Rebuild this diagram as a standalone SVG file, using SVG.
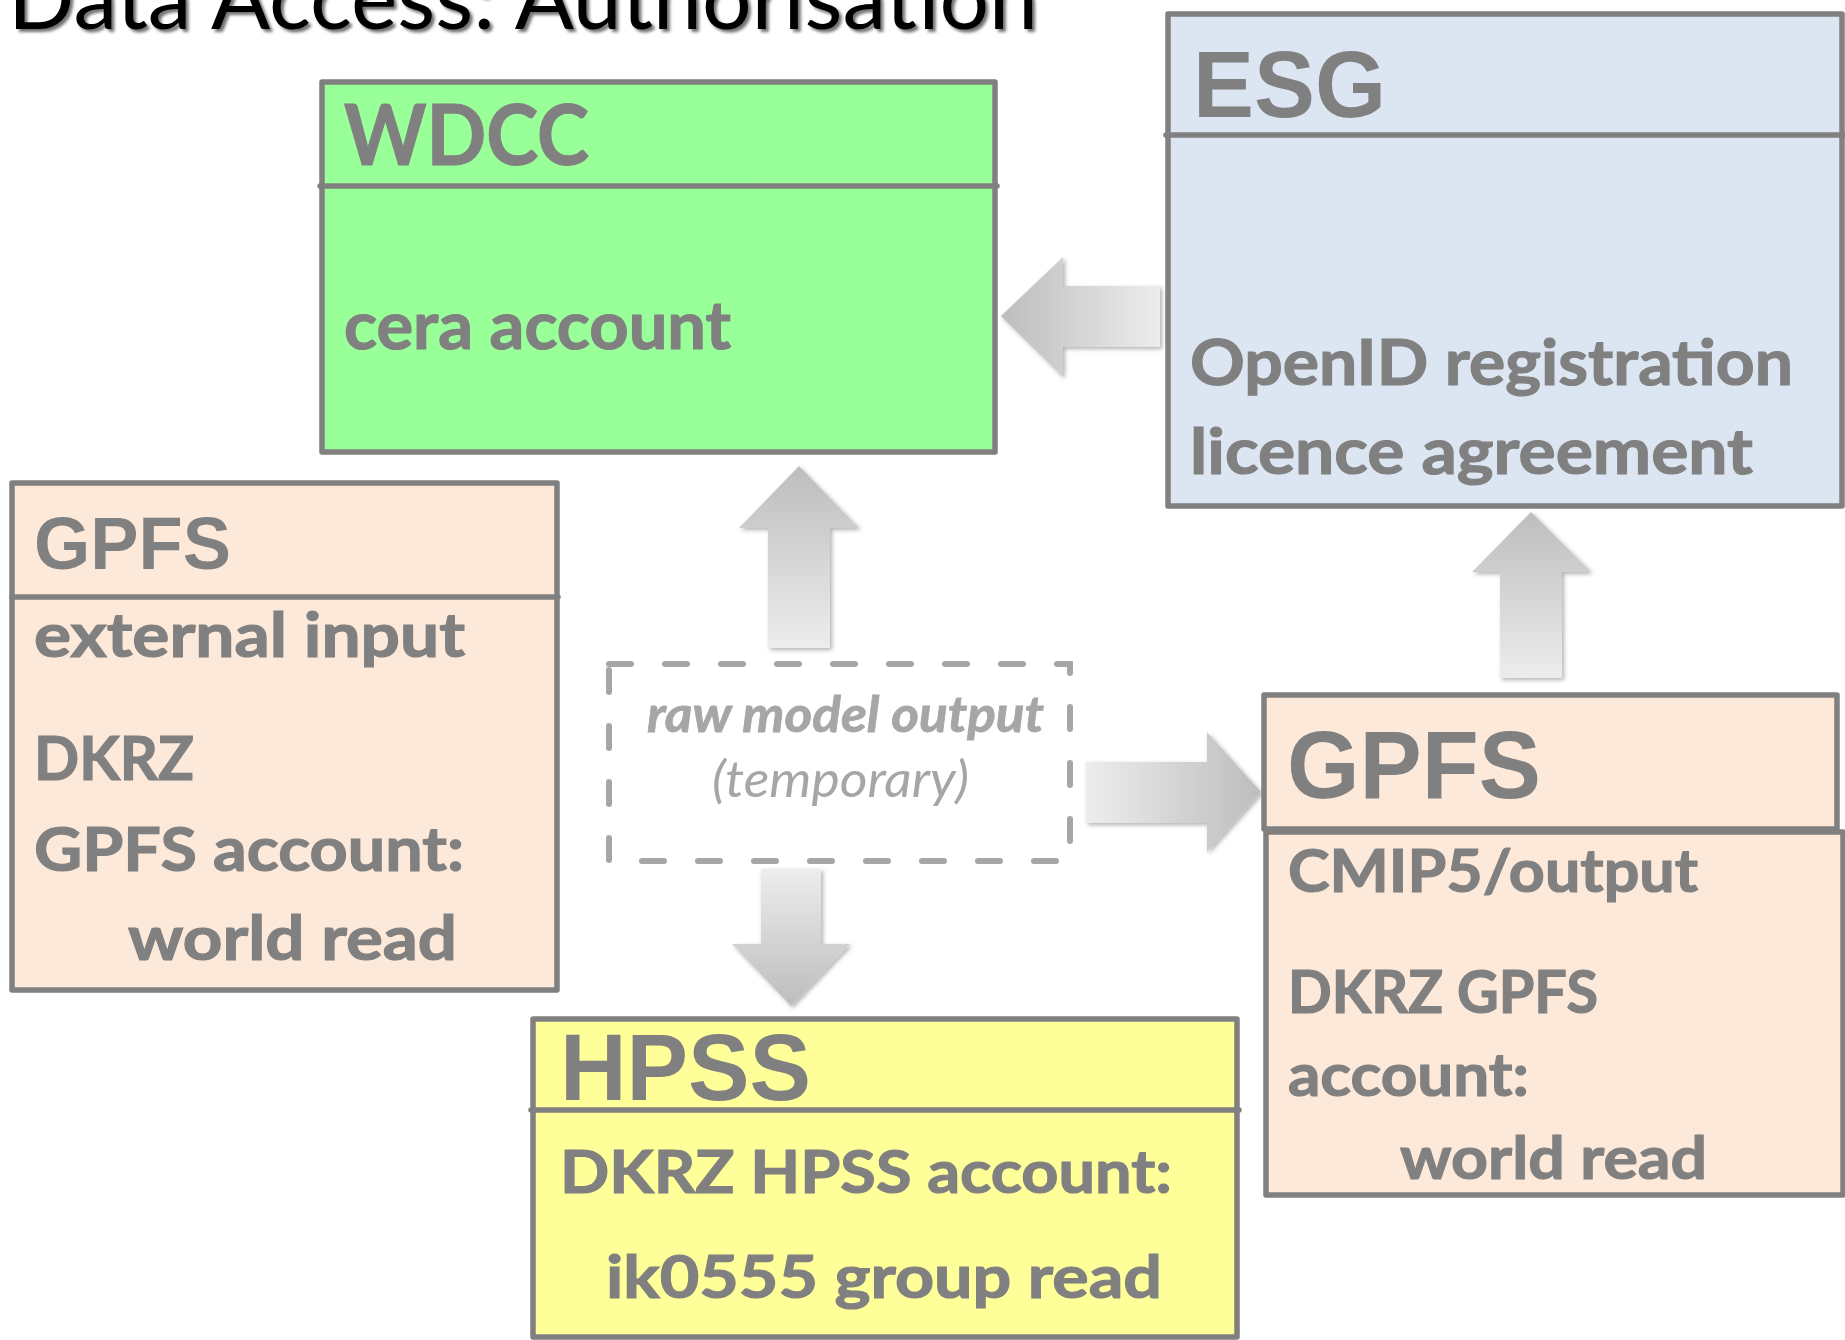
<svg xmlns="http://www.w3.org/2000/svg" width="1845" height="1340" viewBox="0 0 1845 1340">
<style>
.box{stroke:#808080;stroke-width:5.5;stroke-linejoin:round}
.div{stroke:#808080;stroke-width:5.5;stroke-linecap:round}
.t{font-family:Lato,"Liberation Sans",sans-serif;font-weight:700;fill:#808080;stroke:#808080;stroke-width:1.2}
.h{font-family:"Liberation Sans",Arial,sans-serif;font-weight:700;fill:#808080}
.arr{filter:url(#ash)}
</style>
<defs>
<linearGradient id="gL" x1="0" y1="0" x2="1" y2="0"><stop offset="0" stop-color="#BDBDBD"/><stop offset="1" stop-color="#EDEDED"/></linearGradient>
<linearGradient id="gR" x1="1" y1="0" x2="0" y2="0"><stop offset="0" stop-color="#BDBDBD"/><stop offset="1" stop-color="#EDEDED"/></linearGradient>
<linearGradient id="gU" x1="0" y1="0" x2="0" y2="1"><stop offset="0" stop-color="#BDBDBD"/><stop offset="1" stop-color="#EDEDED"/></linearGradient>
<linearGradient id="gD" x1="0" y1="1" x2="0" y2="0"><stop offset="0" stop-color="#BDBDBD"/><stop offset="1" stop-color="#EDEDED"/></linearGradient>
<filter id="ash" x="-20%" y="-20%" width="140%" height="140%"><feDropShadow dx="2" dy="2" stdDeviation="2" flood-color="#000" flood-opacity="0.3"/></filter>
<filter id="tsh" x="-5%" y="-50%" width="110%" height="200%"><feDropShadow dx="3" dy="3" stdDeviation="1.5" flood-color="#000" flood-opacity="0.55"/></filter>
</defs>

<text id="title" x="8" y="29" font-family="Lato,'Liberation Sans',sans-serif" font-size="88" fill="#000" textLength="1030" lengthAdjust="spacingAndGlyphs" filter="url(#tsh)">Data Access: Authorisation</text>

<g id="connectors">
<polygon class="arr" fill="url(#gL)" points="1001,316 1063,257 1063,286 1160,286 1160,347 1063,347 1063,377"/>
<polygon class="arr" fill="url(#gU)" points="799,466 859,528 830,528 830,648 768,648 768,528 739,528"/>
<polygon class="arr" fill="url(#gR)" points="1086,762 1207,762 1207,732 1261,792 1207,852 1207,823 1086,823"/>
<polygon class="arr" fill="url(#gD)" points="761,869 821,869 821,944 850,944 791,1006 732,944 761,944"/>
<polygon class="arr" fill="url(#gU)" points="1531,512 1591,572 1562,572 1562,678 1500,678 1500,572 1472,572"/>
</g>

<g id="wdcc">
<rect class="box" x="322" y="82" width="673" height="370" fill="#99FF99"/>
<line class="div" x1="320" y1="186" x2="997" y2="186"/>
<text class="t" x="344" y="165" font-size="85" textLength="245" lengthAdjust="spacingAndGlyphs">WDCC</text>
<text class="t" x="344" y="349" font-size="67" textLength="387" lengthAdjust="spacingAndGlyphs">cera account</text>
</g>

<g id="esg">
<rect class="box" x="1168" y="14" width="674" height="492" fill="#DCE6F2"/>
<line class="div" x1="1166" y1="135" x2="1843" y2="135"/>
<text class="h" x="1193" y="117" font-size="95" textLength="193" lengthAdjust="spacingAndGlyphs">ESG</text>
<text class="t" x="1190" y="385" font-size="64" textLength="603" lengthAdjust="spacingAndGlyphs">OpenID registration</text>
<text class="t" x="1190" y="474" font-size="64" textLength="563" lengthAdjust="spacingAndGlyphs">licence agreement</text>
</g>

<g id="gpfs-left">
<rect class="box" x="12" y="483" width="545" height="507" fill="#FDE9D9"/>
<line class="div" x1="12" y1="597" x2="558" y2="597"/>
<text class="h" x="34" y="569" font-size="74" textLength="197" lengthAdjust="spacingAndGlyphs">GPFS</text>
<text class="t" x="34" y="657" font-size="62" textLength="431" lengthAdjust="spacingAndGlyphs">external input</text>
<text class="t" x="34" y="780" font-size="62" textLength="160" lengthAdjust="spacingAndGlyphs">DKRZ</text>
<text class="t" x="34" y="871" font-size="62" textLength="430" lengthAdjust="spacingAndGlyphs">GPFS account:</text>
<text class="t" x="128" y="960" font-size="62" textLength="329" lengthAdjust="spacingAndGlyphs">world read</text>
</g>

<g id="raw">
<rect x="609" y="664" width="461" height="197" fill="none" stroke="#A6A6A6" stroke-width="6" stroke-linecap="round" stroke-dasharray="22 34"/>
<text x="647" y="732" font-family="Lato,'Liberation Sans',sans-serif" font-weight="700" font-style="italic" font-size="50" fill="#A6A6A6" stroke="#A6A6A6" stroke-width="0.8" textLength="397" lengthAdjust="spacingAndGlyphs">raw model output</text>
<text x="712" y="797" font-family="Lato,'Liberation Sans',sans-serif" font-style="italic" font-size="50" fill="#A6A6A6" textLength="257" lengthAdjust="spacingAndGlyphs">(temporary)</text>
</g>

<g id="gpfs-right">
<rect class="box" x="1264" y="695" width="573" height="134" fill="#FDE9D9"/>
<rect class="box" x="1266" y="832" width="577" height="363" fill="#FDE9D9"/>
<text class="h" x="1287" y="798" font-size="96" textLength="254" lengthAdjust="spacingAndGlyphs">GPFS</text>
<text class="t" x="1288" y="892" font-size="60" textLength="410" lengthAdjust="spacingAndGlyphs">CMIP5/output</text>
<text class="t" x="1288" y="1013" font-size="60" textLength="310" lengthAdjust="spacingAndGlyphs">DKRZ GPFS</text>
<text class="t" x="1288" y="1096" font-size="60" textLength="241" lengthAdjust="spacingAndGlyphs">account:</text>
<text class="t" x="1400" y="1179" font-size="60" textLength="307" lengthAdjust="spacingAndGlyphs">world read</text>
</g>

<g id="hpss">
<rect class="box" x="533" y="1019" width="704" height="318" fill="#FFFF99"/>
<line class="div" x1="531" y1="1110" x2="1239" y2="1110"/>
<text class="h" x="560" y="1100" font-size="95" textLength="251" lengthAdjust="spacingAndGlyphs">HPSS</text>
<text class="t" x="560" y="1193" font-size="60" textLength="612" lengthAdjust="spacingAndGlyphs">DKRZ HPSS account:</text>
<text class="t" x="606" y="1298" font-size="60" textLength="556" lengthAdjust="spacingAndGlyphs">ik0555 group read</text>
</g>
</svg>
